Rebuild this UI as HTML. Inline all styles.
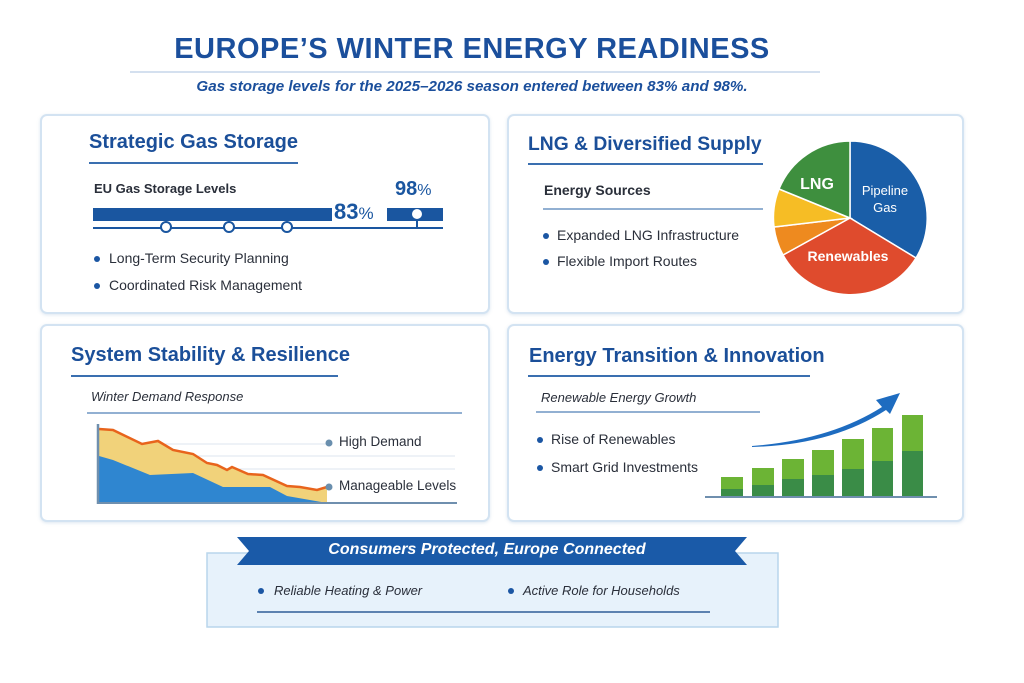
<!DOCTYPE html>
<html><head><meta charset="utf-8"><style>
body{margin:0;width:1024px;height:683px;background:#fff;position:relative;overflow:hidden;font-family:"Liberation Sans","DejaVu Sans",sans-serif}
.a{position:absolute;white-space:nowrap}
.p{position:absolute;border:2px solid #d3e3f2;border-radius:7px;background:#fff;box-shadow:0 1px 3px rgba(120,160,200,.25)}
.h{position:absolute;font-weight:bold;color:#1b4f99;font-size:20px;white-space:nowrap}
.t{position:absolute;font-size:14px;color:#2a2f3a;white-space:nowrap}
.d{position:absolute;width:6px;height:6px;border-radius:50%;background:#1b56a3}
</style></head><body>
<div class="a" style="left:0;width:944px;top:33px;text-align:center;font-size:29px;font-weight:bold;color:#1b4f9c;letter-spacing:0.5px">EUROPE’S WINTER ENERGY READINESS</div>
<div class="a" style="left:0;width:944px;top:78px;text-align:center;font-size:15.2px;font-weight:bold;font-style:italic;color:#1b4f9c">Gas storage levels for the 2025–2026 season entered between 83% and 98%.</div>

<div class="p" style="left:40px;top:114px;width:446px;height:196px"></div>
<div class="p" style="left:507px;top:114px;width:453px;height:196px"></div>
<div class="p" style="left:40px;top:324px;width:446px;height:194px"></div>
<div class="p" style="left:507px;top:324px;width:453px;height:194px"></div>

<svg class="a" style="left:0;top:0" width="1024" height="683">
<line x1="130" y1="72" x2="820" y2="72" stroke="#c5d6ea" stroke-width="1.5"/>
<line x1="89" y1="163" x2="298" y2="163" stroke="#3a6fb0" stroke-width="2"/>
<rect x="93" y="208" width="239" height="13" fill="#1a56a0"/>
<rect x="387" y="208" width="56" height="13" fill="#1a56a0"/>
<line x1="93" y1="228" x2="443" y2="228" stroke="#1a56a0" stroke-width="2"/>
<line x1="417" y1="218" x2="417" y2="228" stroke="#1a56a0" stroke-width="2"/>
<circle cx="417" cy="214" r="5" fill="#fff"/>
<g fill="#fff" stroke="#1a56a0" stroke-width="2"><circle cx="166" cy="227" r="5"/><circle cx="229" cy="227" r="5"/><circle cx="287" cy="227" r="5"/></g>
<line x1="528" y1="164" x2="763" y2="164" stroke="#3a6fb0" stroke-width="2"/>
<line x1="543" y1="209" x2="763" y2="209" stroke="#6e95c4" stroke-width="1.5"/>
<g stroke="#fff" stroke-width="1.5">
<path d="M850,218 L850,141 A77,77 0 0 1 916,258 Z" fill="#1a5ea8"/>
<path d="M850,218 L916,258 A77,77 0 0 1 783,255 Z" fill="#df4b2d"/>
<path d="M850,218 L783,255 A77,77 0 0 1 774,227 Z" fill="#ee8a1f"/>
<path d="M850,218 L774,227 A77,77 0 0 1 779,189 Z" fill="#f6bd25"/>
<path d="M850,218 L779,189 A77,77 0 0 1 850,141 Z" fill="#3e8f3e"/>
</g>
<g fill="#fff" font-weight="bold" text-anchor="middle" font-family="Liberation Sans,sans-serif">
<text x="817" y="189" font-size="16">LNG</text>
<text x="885" y="195" font-size="13" font-weight="normal">Pipeline</text>
<text x="885" y="212" font-size="13" font-weight="normal">Gas</text>
<text x="848" y="261" font-size="14">Renewables</text>
</g>
<line x1="71" y1="376" x2="338" y2="376" stroke="#3a6fb0" stroke-width="2"/>
<line x1="87" y1="413" x2="462" y2="413" stroke="#6e95c4" stroke-width="1.5"/>
<g stroke="#dde6ef" stroke-width="1"><line x1="98" y1="444" x2="330" y2="444"/><line x1="98" y1="456" x2="455" y2="456"/><line x1="98" y1="469" x2="455" y2="469"/></g>
<path d="M99,429 L113,430 142,444 158,441 173,450 193,454 207,463 217,465 227,470 232,467 248,474 263,475 287,486 300,487 317,490 327,487 L327,503 L99,503 Z" fill="#f1d27a"/>
<path d="M99,456 L113,460 150,475 193,473 223,487 270,487 287,496 327,503 L99,503 Z" fill="#2f86d0"/>
<path d="M99,429 L113,430 142,444 158,441 173,450 193,454 207,463 217,465 227,470 232,467 248,474 263,475 287,486 300,487 317,490 327,487" fill="none" stroke="#e8641c" stroke-width="2.5"/>
<line x1="98" y1="424" x2="98" y2="504" stroke="#6f8fae" stroke-width="2.5"/>
<line x1="97" y1="503" x2="457" y2="503" stroke="#6f8fae" stroke-width="2"/>
<circle cx="329" cy="443" r="3.5" fill="#6a8fae"/><circle cx="329" cy="487" r="3.5" fill="#6a8fae"/>
<line x1="528" y1="376" x2="810" y2="376" stroke="#3a6fb0" stroke-width="2"/>
<line x1="536" y1="412" x2="760" y2="412" stroke="#6e95c4" stroke-width="1.5"/>
<g fill="#6cb435">
<rect x="721" y="477" width="22" height="19"/><rect x="752" y="468" width="22" height="28"/><rect x="782" y="459" width="22" height="37"/><rect x="812" y="450" width="22" height="46"/><rect x="842" y="439" width="22" height="57"/><rect x="872" y="428" width="21" height="68"/><rect x="902" y="415" width="21" height="81"/></g>
<g fill="#3a8c47">
<rect x="721" y="489" width="22" height="7"/><rect x="752" y="485" width="22" height="11"/><rect x="782" y="479" width="22" height="17"/><rect x="812" y="475" width="22" height="21"/><rect x="842" y="469" width="22" height="27"/><rect x="872" y="461" width="21" height="35"/><rect x="902" y="451" width="21" height="45"/></g>
<line x1="705" y1="497" x2="937" y2="497" stroke="#6f8fae" stroke-width="2"/>
<path d="M752,446 Q830,440 882,407 L876,400 L900,393 L890,414 L886,410 Q832,445 752,447 Z" fill="#1e6cc0"/>
<rect x="207" y="553" width="571" height="74" fill="#e7f2fb" stroke="#b9d5ec" stroke-width="1.5"/>
<polygon points="237,537 747,537 735,551 747,565 237,565 249,551" fill="#1a5aa8"/>
<line x1="257" y1="612" x2="710" y2="612" stroke="#2f5d98" stroke-width="1.5"/>
</svg>

<div class="h" style="left:89px;top:131px">Strategic Gas Storage</div>
<div class="t" style="left:94px;top:181px;font-size:13px;font-weight:bold">EU Gas Storage Levels</div>
<div class="a" style="left:334px;top:199px;font-size:22px;color:#1a56a0;font-weight:bold">83<span style="font-size:17px;font-weight:normal">%</span></div>
<div class="a" style="left:395px;top:178px;font-size:20px;color:#1a56a0;font-weight:bold">98<span style="font-size:16px;font-weight:normal">%</span></div>
<div class="d" style="left:94px;top:256px"></div><div class="t" style="left:109px;top:250px">Long-Term Security Planning</div>
<div class="d" style="left:94px;top:283px"></div><div class="t" style="left:109px;top:277px">Coordinated Risk Management</div>

<div class="h" style="left:528px;top:134px;font-size:19.3px">LNG &amp; Diversified Supply</div>
<div class="t" style="left:544px;top:182px;font-weight:bold">Energy Sources</div>
<div class="d" style="left:543px;top:233px"></div><div class="t" style="left:557px;top:227px">Expanded LNG Infrastructure</div>
<div class="d" style="left:543px;top:259px"></div><div class="t" style="left:557px;top:253px">Flexible Import Routes</div>

<div class="h" style="left:71px;top:344px">System Stability &amp; Resilience</div>
<div class="t" style="left:91px;top:389px;font-size:13px;font-style:italic">Winter Demand Response</div>
<div class="t" style="left:339px;top:434px;font-size:13.5px">High Demand</div>
<div class="t" style="left:339px;top:478px;font-size:13.5px">Manageable Levels</div>

<div class="h" style="left:529px;top:345px">Energy Transition &amp; Innovation</div>
<div class="t" style="left:541px;top:390px;font-size:13px;font-style:italic">Renewable Energy Growth</div>
<div class="d" style="left:537px;top:437px"></div><div class="t" style="left:551px;top:431px">Rise of Renewables</div>
<div class="d" style="left:537px;top:465px"></div><div class="t" style="left:551px;top:459px">Smart Grid Investments</div>

<div class="a" style="left:237px;width:500px;top:541px;text-align:center;color:#fff;font-weight:bold;font-style:italic;font-size:16px">Consumers Protected, Europe Connected</div>
<div class="d" style="left:258px;top:588px"></div><div class="t" style="left:274px;top:583px;font-size:13px;font-style:italic">Reliable Heating &amp; Power</div>
<div class="d" style="left:508px;top:588px"></div><div class="t" style="left:523px;top:583px;font-size:13px;font-style:italic">Active Role for Households</div>
</body></html>
